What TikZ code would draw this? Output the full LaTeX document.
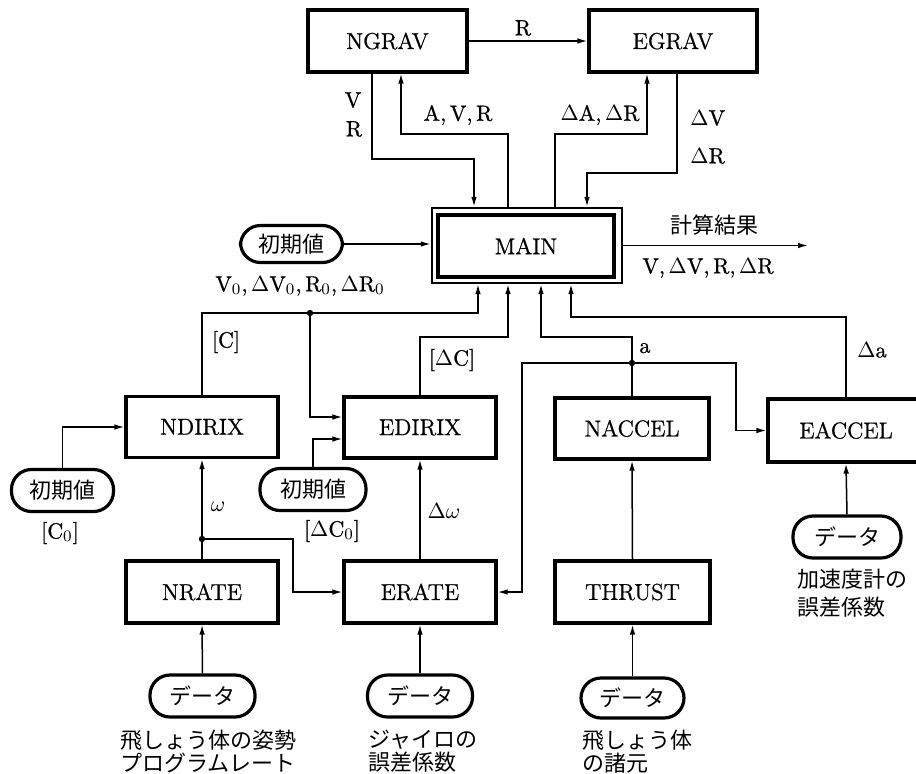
\documentclass[tikz,border=0pt]{standalone}
\usepackage{fontspec}
\setmainfont{Latin Modern Roman}[FakeBold=0.8]
\newfontfamily\jp{Noto Sans CJK JP}
\usetikzlibrary{arrows.meta}
\begin{document}
\begin{tikzpicture}[x=0.5pt,y=-0.5pt,
  box/.style={draw,line width=1.6pt,inner sep=0pt,font=\fontsize{11.5}{13}\selectfont,minimum width=76pt,minimum height=30.5pt},
  pill/.style={draw,line width=1.6pt,inner sep=0pt,rounded corners=10pt,minimum width=51pt,minimum height=21pt,font=\jp\fontsize{11}{12}\selectfont},
  conn/.style={line width=0.75pt},
  arr/.style={conn,-{Latex[length=5pt,width=2.8pt]}},
  lbl/.style={inner sep=0pt,font=\fontsize{11}{12}\selectfont},
  jlbl/.style={inner sep=0pt,font=\jp\fontsize{11}{12}\selectfont},
  capt/.style={inner sep=0pt,anchor=north west,align=left,font=\jp\fontsize{11}{10}\selectfont}
]
\useasboundingbox (0,0) rectangle (916,773);
\fill[white] (0,0) rectangle (916,773);
\clip (0,0) rectangle (916,773);

% boxes
\node[box,minimum width=79.5pt,minimum height=31pt] (ngrav) at (387.5,41) {NGRAV};
\node[box,minimum width=84pt,minimum height=31pt] (egrav) at (673,41) {EGRAV};
\node[box,minimum width=88pt,minimum height=31pt,line width=1.9pt] (main) at (526,246) {MAIN};
\node[draw,line width=1.2pt,inner sep=0pt,minimum width=95pt,minimum height=37.5pt] (mainout) at (527,245.5) {};
\node[box] (ndirix) at (202,427) {NDIRIX};
\node[box] (edirix) at (420,427.5) {EDIRIX};
\node[box,minimum width=77pt] (naccel) at (632,428.5) {NACCEL};
\node[box,minimum width=78pt,minimum height=31.5pt] (eaccel) at (846,430.5) {EACCEL};
\node[box,minimum height=31pt] (nrate) at (202,592) {NRATE};
\node[box,minimum height=31pt] (erate) at (420,592) {ERATE};
\node[box,minimum width=77.5pt,minimum height=31pt] (thrust) at (632.5,592) {THRUST};

% pills
\node[pill,minimum height=18.5pt] (init1) at (291.5,244) {初期値};
\node[pill] (init2) at (62.5,490.5) {初期値};
\node[pill,minimum width=53pt] (init3) at (313,489.5) {初期値};
\node[pill,minimum width=52.5pt] (d1) at (202.5,696) {データ};
\node[pill,minimum width=52.5pt] (d2) at (420,696) {データ};
\node[pill,minimum width=51.5pt,minimum height=20pt] (d3) at (632.5,698) {データ};
\node[pill,minimum width=54pt] (d4) at (847,537) {データ};

% junctions
\coordinate (j1) at (310,313);
\coordinate (j2) at (632,363);
\coordinate (j3) at (202,539);
\coordinate (out) at (808,245.5);

% top connectors
\draw[arr] (ngrav.east) -- (egrav.west);
\draw[arr] (372,0 |- ngrav.south) -- (372,159) -- (474,159) -- (474,0 |- mainout.north);
\draw[arr] (508,0 |- mainout.north) -- (508,134) -- (401,134) -- (401,0 |- ngrav.south);
\draw[arr] (555,0 |- mainout.north) -- (555,134) -- (647,134) -- (647,0 |- egrav.south);
\draw[arr] (677,0 |- egrav.south) -- (677,173) -- (587,173) -- (587,0 |- mainout.north);
\draw[arr] (init1.east) -- (mainout.west |- init1.east);
\draw[arr] (mainout.east) -- (out);

% bottom connectors into MAIN
\draw[arr] (ndirix.north) |- (478,313) -- (478,0 |- mainout.south);
\draw[arr] (j1) -- (310,417) -- (edirix.west |- 0,417);
\draw[arr] (edirix.north) |- (508,337) -- (508,0 |- mainout.south);
\draw[arr] (naccel.north) |- (541,337) -- (541,0 |- mainout.south);
\draw[arr] (j2) -- (736,363) -- (736,0 |- eaccel.west) -- (eaccel.west);
\draw[arr] (j2) -- (522,363) -- (522,0 |- erate.east) -- (erate.east);
\draw[arr] (eaccel.north) |- (571,317) -- (571,0 |- mainout.south);

% initial values
\draw[arr] (init2.north) |- (ndirix.west);
\draw[arr] (init3.north) |- (edirix.west |- 0,439);

% rates
\draw[arr] (nrate.north) -- (ndirix.south);
\draw[arr] (j3) -- (293,539) -- (293,0 |- erate.west) -- (erate.west);
\draw[arr] (erate.north) -- (edirix.south);
\draw[arr] (thrust.north) -- (naccel.south);

% data
\draw[arr] (d1.north) -- (nrate.south);
\draw[arr] (d2.north) -- (erate.south);
\draw[arr] (d3.north) -- (thrust.south);
\draw[arr] (d4.north) -- (eaccel.south);

% dots
\fill (j1) circle (1.6pt);
\fill (j2) circle (1.6pt);
\fill (j3) circle (1.6pt);

% labels
\node[lbl] at (523,28) {R};
\node[lbl] at (353,100) {V};
\node[lbl] at (354,129) {R};
\node[lbl] at (458,115) {A,\,V,\,R};
\node[lbl] at (600,115) {$\Delta$A,\,$\Delta$R};
\node[lbl,anchor=west] at (690,118) {$\Delta$V};
\node[lbl,anchor=west] at (690,156) {$\Delta$R};
\node[jlbl] at (714,225) {計算結果};
\node[lbl] at (708,268) {V,\,$\Delta$V,\,R,\,$\Delta$R};
\node[lbl] at (300,286) {V$_0$,\,$\Delta$V$_0$,\,R$_0$,\,$\Delta$R$_0$};
\node[lbl] at (226,342) {[C]};
\node[lbl] at (452,360) {[$\Delta$C]};
\node[lbl] at (645,348) {a};
\node[lbl] at (872,350) {$\Delta$a};
\node[lbl] at (218,507) {$\omega$};
\node[lbl] at (444,511) {$\Delta\omega$};
\node[lbl] at (60,533) {[C$_0$]};
\node[lbl] at (332,531) {[$\Delta$C$_0$]};

% captions
\node[capt] at (120,730) {飛しょう体の姿勢\\プログラムレート};
\node[capt] at (368,730) {ジャイロの\\誤差係数};
\node[capt] at (582,730) {飛しょう体\\の諸元};
\node[capt,font=\jp\fontsize{11}{14}\selectfont] at (797,569) {加速度計の\\誤差係数};
\end{tikzpicture}
\end{document}
